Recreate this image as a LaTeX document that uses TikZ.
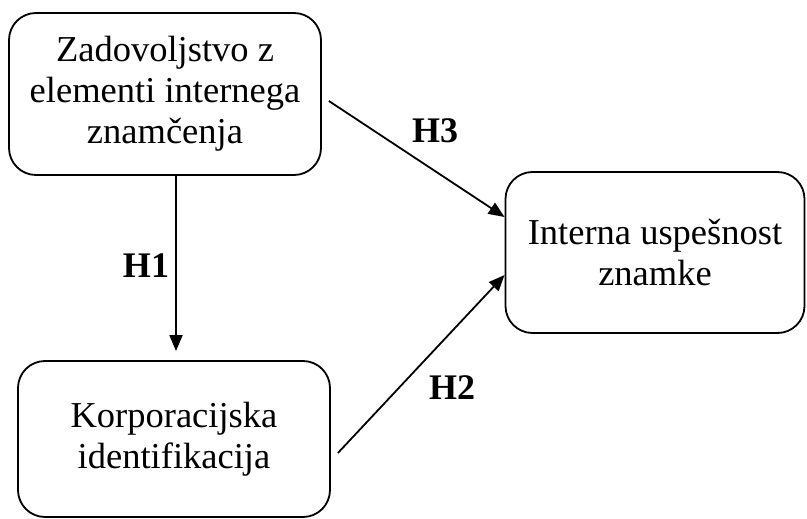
\documentclass[tikz,border=0pt]{standalone}
\usepackage{fontspec}
\setmainfont{Liberation Serif}
\usetikzlibrary{arrows.meta}
\begin{document}
\begin{tikzpicture}[x=1pt,y=-1pt,
  box/.style={draw, line width=1.8pt, rounded corners=27pt, align=center,
    font=\fontsize{36.5}{41}\selectfont, inner sep=0pt},
  arr/.style={line width=1.8pt, -{Triangle[length=16pt,width=13pt]}},
  hlab/.style={font=\fontsize{36}{40}\selectfont\bfseries}]
\useasboundingbox (0,0) rectangle (807,519);
\node[box, minimum width=312pt, minimum height=162pt] (tl) at (165,94)
  {Zadovoljstvo z\\elementi internega\\znamčenja};
\node[box, minimum width=312pt, minimum height=156pt] (bl) at (174,439)
  {Korporacijska\\identifikacija};
\node[box, minimum width=299pt, minimum height=161pt] (rt) at (655,252.5)
  {Interna uspešnost\\znamke};
\draw[arr, shorten >=9pt] ([xshift=11pt]tl.south) -- ([xshift=2pt]bl.north);
\draw[arr] ([shift={(7pt,-7pt)}]tl.east) -- ([yshift=35.5pt]rt.west);
\draw[arr] ([shift={(7pt,-14pt)}]bl.east) -- ([yshift=-22.5pt]rt.west);
\node[hlab] (h1) at (146,266) {H1};
\node[hlab] (h2) at (452,388) {H2};
\node[hlab] (h3) at (435,131) {H3};
\end{tikzpicture}
\end{document}
